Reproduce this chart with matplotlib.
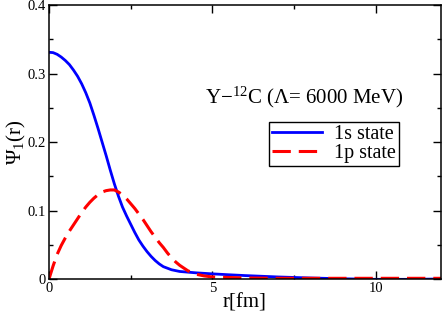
import numpy as np
import matplotlib
matplotlib.use("Agg")
import matplotlib.pyplot as plt
from matplotlib.ticker import MultipleLocator

# radial grid [fm] and wave functions
r_1s = [0.0, 0.125, 0.25, 0.375, 0.5, 0.625, 0.75, 0.875, 1.0, 1.125, 1.25,
        1.375, 1.5, 1.625, 1.75, 1.875, 2.0, 2.125, 2.25, 2.375, 2.5, 2.625,
        2.75, 2.875, 3.0, 3.125, 3.25, 3.375, 3.5, 3.75, 4.0, 4.5, 5.0, 5.5,
        6.0, 7.0, 8.0, 9.0, 10.0, 11.0, 12.0]
psi_1s = [0.331, 0.3305, 0.328, 0.324, 0.319, 0.313, 0.305, 0.296, 0.285,
          0.272, 0.257, 0.239, 0.220, 0.200, 0.180, 0.159, 0.139, 0.121, 0.105,
          0.092, 0.080, 0.068, 0.057, 0.048, 0.040, 0.033, 0.027, 0.022, 0.018,
          0.0135, 0.011, 0.009, 0.0075, 0.0062, 0.005, 0.003, 0.0015, 0.0003,
          -0.0005, -0.0005, 0.0]

r_1p = [0.0, 0.125, 0.25, 0.375, 0.5, 0.625, 0.75, 0.875, 1.0, 1.125, 1.25,
        1.375, 1.5, 1.625, 1.75, 1.875, 2.0, 2.125, 2.25, 2.375, 2.5, 2.625,
        2.75, 2.875, 3.0, 3.125, 3.25, 3.375, 3.5, 3.625, 3.75, 3.875, 4.0,
        4.25, 4.5, 4.75, 5.0, 6.0, 7.0, 8.0, 9.0, 10.0, 11.0, 12.0]
psi_1p = [0.0, 0.019, 0.036, 0.049, 0.060, 0.070, 0.079, 0.088, 0.097, 0.105,
          0.112, 0.118, 0.123, 0.127, 0.129, 0.130, 0.130, 0.127, 0.123, 0.117,
          0.110, 0.103, 0.095, 0.087, 0.078, 0.069, 0.061, 0.053, 0.046, 0.038,
          0.031, 0.025, 0.020, 0.012, 0.007, 0.0045, 0.003, 0.0015, 0.001,
          0.001, 0.001, 0.001, 0.001, 0.001]

plt.rcParams["font.family"] = "Liberation Serif"
plt.rcParams["mathtext.fontset"] = "custom"
plt.rcParams["mathtext.rm"] = "Liberation Serif"
plt.rcParams["mathtext.it"] = "Liberation Serif:italic"
plt.rcParams["mathtext.bf"] = "Liberation Serif:bold"

fig = plt.figure(figsize=(4.43, 3.16), dpi=100)
ax = fig.add_axes([0.1106, 0.1171, 0.885, 0.867])

ax.plot(r_1s, psi_1s, color="#0000ff", lw=2.0, label="1s state")
ax.plot(r_1p, psi_1p, color="#ff0000", lw=2.2, dashes=(6.0, 2.6), label="1p state")

ax.set_xlim(0, 12)
ax.set_ylim(0, 0.4)
ax.xaxis.set_major_locator(MultipleLocator(5))
ax.xaxis.set_minor_locator(MultipleLocator(2.5))
ax.yaxis.set_major_locator(MultipleLocator(0.1))
ax.yaxis.set_minor_locator(MultipleLocator(0.05))
ax.set_xticks([0, 5, 10])
ax.set_xticklabels(["0", "5", "10"])
ax.set_yticks([0, 0.1, 0.2, 0.3, 0.4])
ax.set_yticklabels(["0", "0.1", "0.2", "0.3", "0.4"])
ax.tick_params(which="both", direction="in", top=True, right=True, labelsize=10.5, width=1.0)
ax.tick_params(which="major", length=5.5, pad=2)
ax.tick_params(which="minor", length=3)
for s in ax.spines.values():
    s.set_linewidth(1.1)

ax.set_xlabel("r[fm]", fontsize=15, labelpad=-1)
ax.set_ylabel(r"$\Psi_1$(r)", fontsize=15, labelpad=0)

ax.text(4.79, 0.257, r"Y$-^{12}$C ($\Lambda$= 6000 MeV)", fontsize=15)

leg = ax.legend(loc="upper right", bbox_to_anchor=(0.893, 0.573), fontsize=14.5,
                frameon=True, fancybox=False, edgecolor="black", framealpha=1,
                handlelength=2.5, borderpad=0.15, labelspacing=0.0,
                handletextpad=0.6, borderaxespad=0)
leg.get_frame().set_linewidth(1.0)

fig.savefig("out.png", dpi=100)
